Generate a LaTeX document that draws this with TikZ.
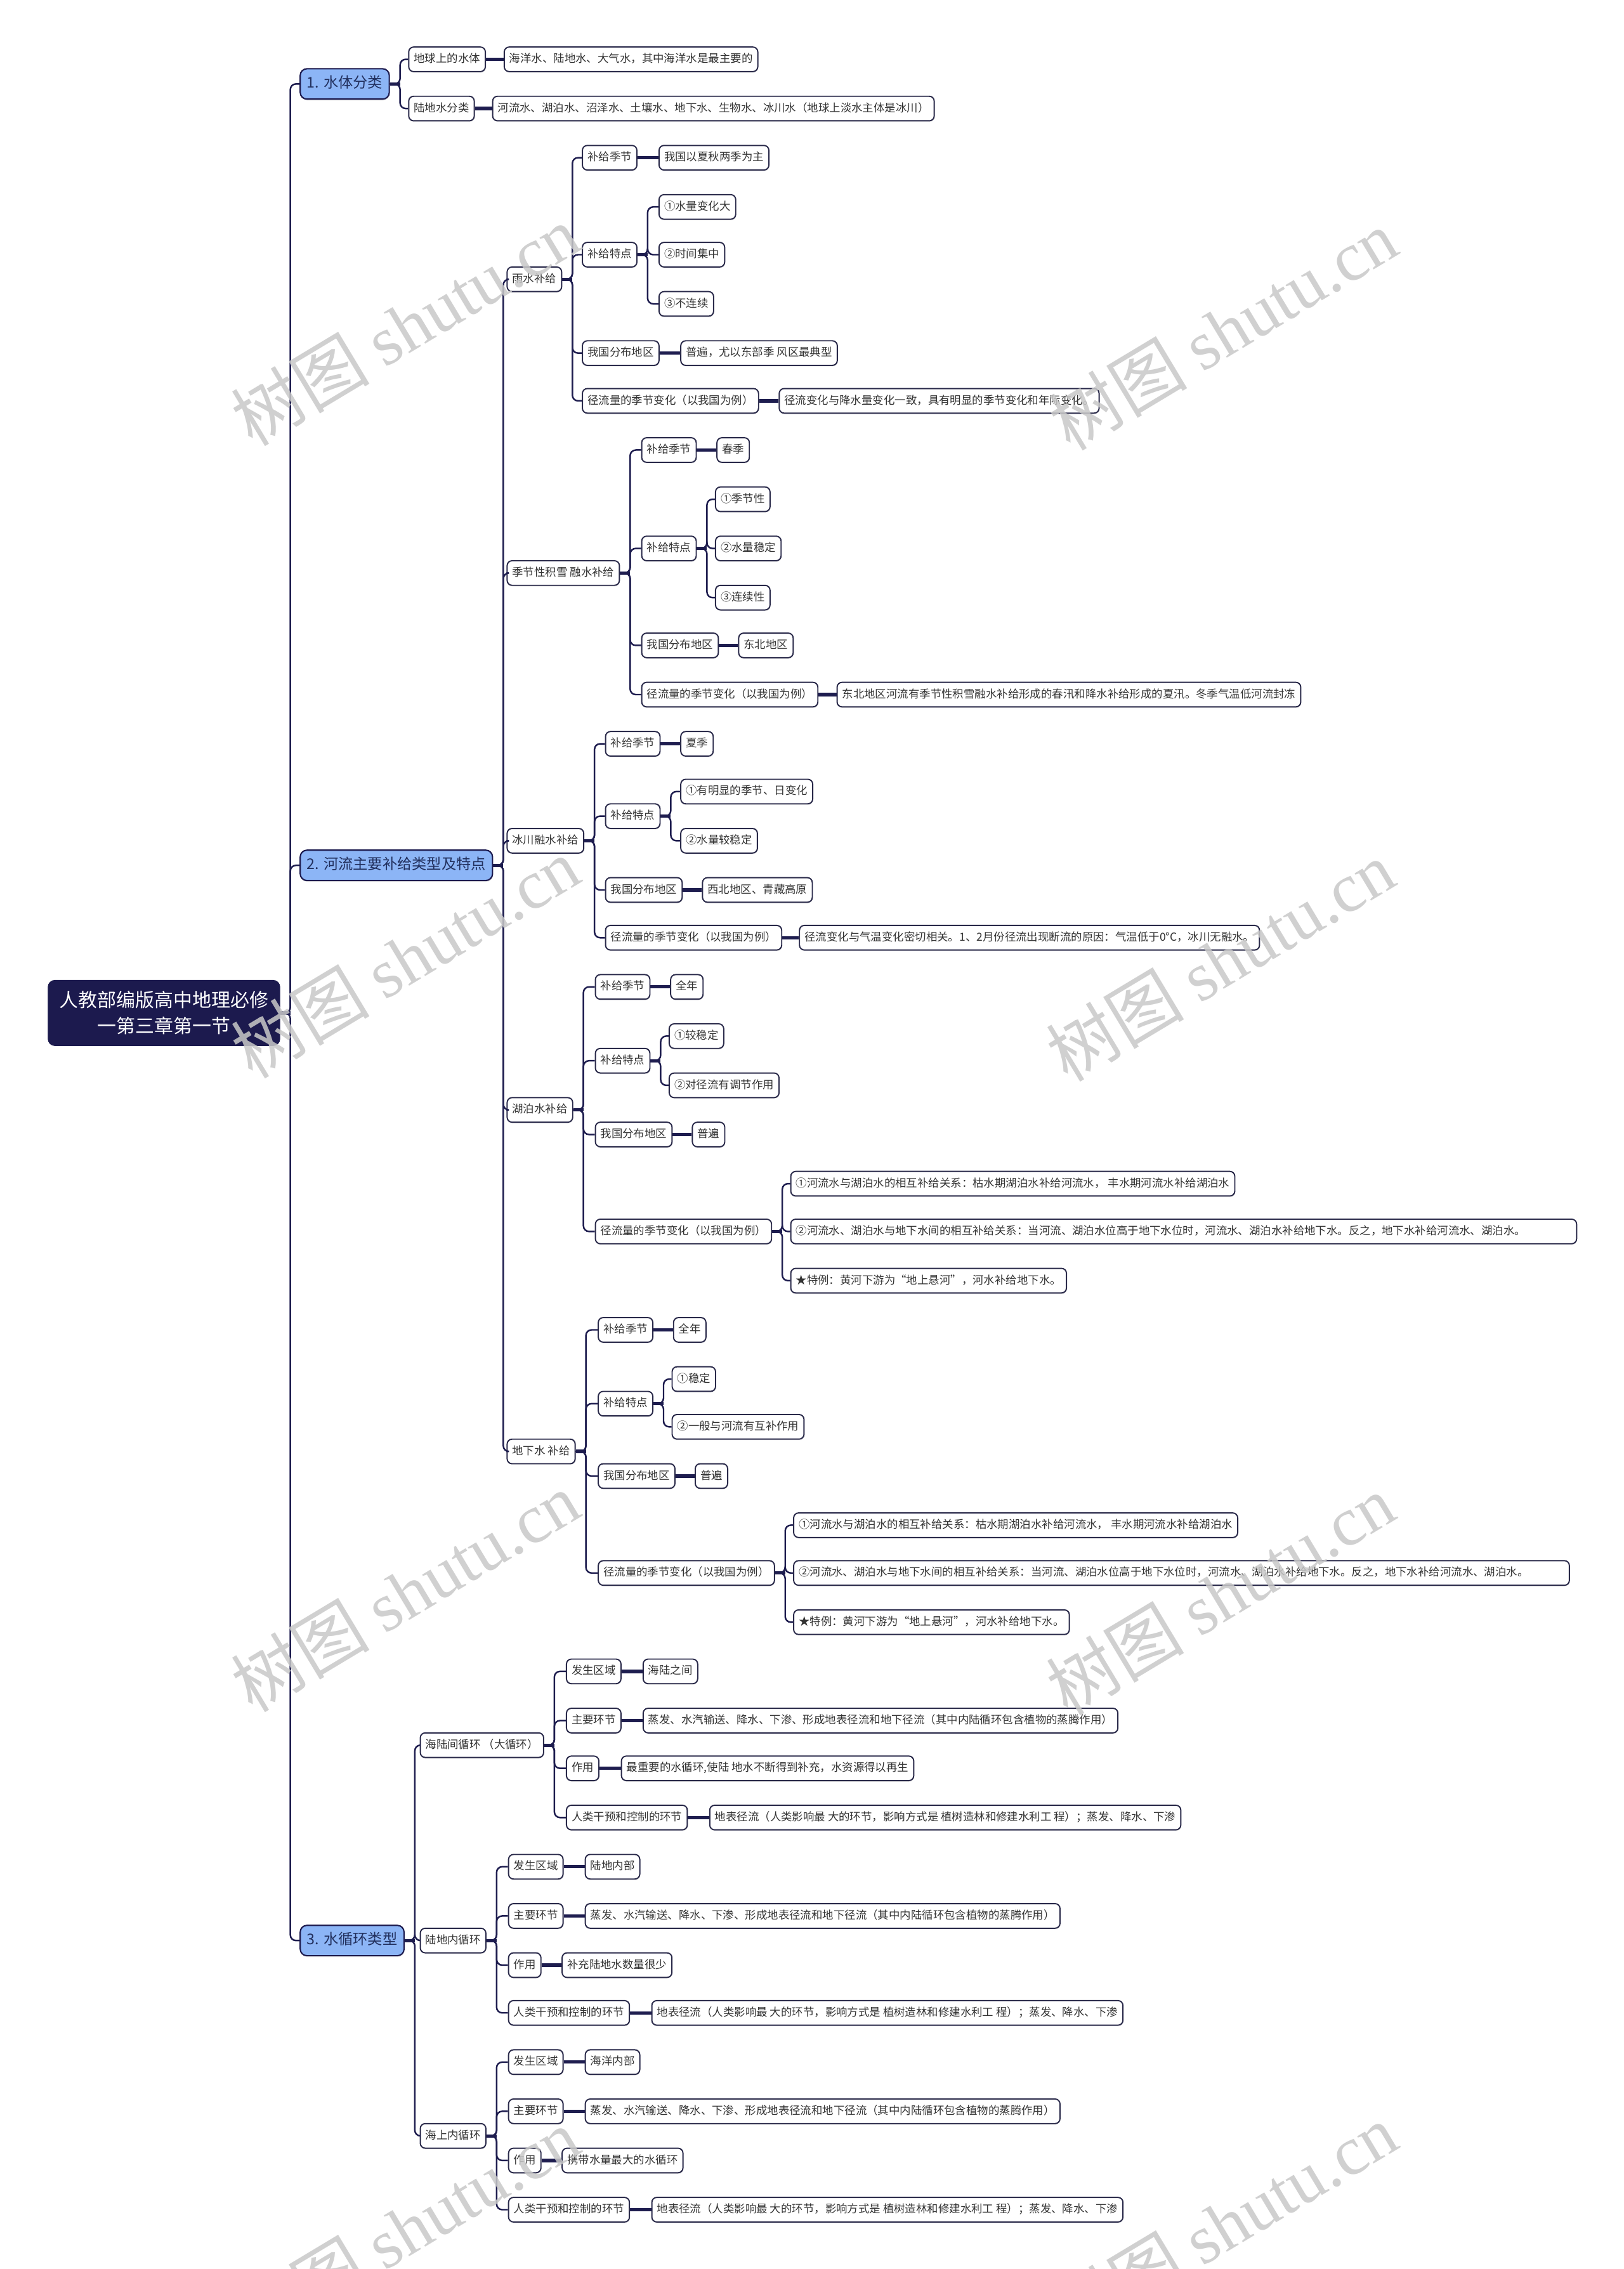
\documentclass[tikz,border=0pt]{standalone}
\usepackage{fontspec}
\setmainfont{Noto Sans CJK SC}
\newfontfamily\cjk{Noto Sans CJK SC}
\newfontfamily\wmlat{Liberation Serif}
\usetikzlibrary{shadows}
\definecolor{navy}{HTML}{1C1A4E}
\definecolor{ln}{HTML}{1E1D4F}
\definecolor{lblue}{HTML}{8CB5F6}
\definecolor{bd}{HTML}{2A2A4A}
\definecolor{tx}{HTML}{333333}
\definecolor{lonet}{HTML}{22305E}
\definecolor{wmc}{HTML}{C8C8C8}
\newcommand{\linkc}[2]{\draw[cn] (#1.east) -- ++(7,0) |- (#2.west);}
\newcommand{\stubc}[1]{\draw[stub] (#1.east) -- ++(7,0);}
\newcommand{\directc}[2]{\draw[stub] (#1.east) -- (#2.west);}
\tikzset{
  bx/.style={draw=bd, line width=0.55pt, rounded corners=2.2pt, fill=white, text=tx,
    font=\cjk\fontsize{4.95}{6}\selectfont, inner xsep=2.3pt, inner ysep=0pt,
    minimum height=11pt, text height=3.8pt, text depth=0.9pt, anchor=west,
    drop shadow={opacity=0.18, shadow xshift=0.2pt, shadow yshift=-0.5pt}},
  lone/.style={draw=navy, line width=0.6pt, rounded corners=3pt, fill=lblue, text=lonet,
    font=\cjk\fontsize{6.6}{8}\selectfont, inner xsep=3pt, inner ysep=0pt,
    minimum height=13.6pt, text height=5pt, text depth=1.3pt, anchor=west,
    drop shadow={opacity=0.18, shadow xshift=0.2pt, shadow yshift=-0.6pt}},
  rt/.style={fill=navy, draw=navy, rounded corners=3pt, text=white, align=center,
    font=\cjk\fontsize{8.5}{11.7}\selectfont, minimum width={160*0.6478pt},
    minimum height={45*0.6478pt}, anchor=west, inner sep=0pt},
  cn/.style={draw=ln, line width=0.7pt, rounded corners=2.5pt},
  stub/.style={draw=ln, line width=1.5pt},
  wm/.style={text=wmc, text opacity=0.85, rotate=31, font=\cjk\fontsize{31}{32}\selectfont, inner sep=0pt},
  wide/.style={align=left}
}
\begin{document}
\begin{tikzpicture}[x=0.6478pt,y=-0.6478pt]
\useasboundingbox (0,0) rectangle (1122,1568);
\fill[white] (0,0) rectangle (1122,1568);

% root and level 1
\node[rt] (root) at (33,700) {人教部编版高中地理必修\\一第三章第一节};
\node[lone] (A1) at (207,58) {1. 水体分类};
\node[lone] (A2) at (207,598) {2. 河流主要补给类型及特点};
\node[lone] (A3) at (207,1341) {3. 水循环类型};

% group 1
\node[bx] (A1a) at (282,41) {地球上的水体};
\node[bx] (A1a1) at (348,41) {海洋水、陆地水、大气水，其中海洋水是最主要的};
\node[bx] (A1b) at (282,75) {陆地水分类};
\node[bx] (A1b1) at (340,75) {河流水、湖泊水、沼泽水、土壤水、地下水、生物水、冰川水（地球上淡水主体是冰川）};

% rain
\node[bx] (R) at (350,193) {雨水补给};
\node[bx] (R1) at (402,109) {补给季节};
\node[bx] (R1a) at (455,109) {我国以夏秋两季为主};
\node[bx] (R2) at (402,176) {补给特点};
\node[bx] (R2a) at (455,143) {①水量变化大};
\node[bx] (R2b) at (455,176) {②时间集中};
\node[bx] (R2c) at (455,210) {③不连续};
\node[bx] (R3) at (402,244) {我国分布地区};
\node[bx] (R3a) at (470,244) {普遍，尤以东部季 风区最典型};
\node[bx] (R4) at (402,277) {径流量的季节变化（以我国为例）};
\node[bx] (R4a) at (538,277) {径流变化与降水量变化一致，具有明显的季节变化和年际变化。};

% snow
\node[bx] (S) at (350,396) {季节性积雪 融水补给};
\node[bx] (S1) at (443,311) {补给季节};
\node[bx] (S1a) at (495,311) {春季};
\node[bx] (S2) at (443,379) {补给特点};
\node[bx] (S2a) at (494,345) {①季节性};
\node[bx] (S2b) at (494,379) {②水量稳定};
\node[bx] (S2c) at (494,413) {③连续性};
\node[bx] (S3) at (443,446) {我国分布地区};
\node[bx] (S3a) at (510,446) {东北地区};
\node[bx] (S4) at (443,480) {径流量的季节变化（以我国为例）};
\node[bx] (S4a) at (578,480) {东北地区河流有季节性积雪融水补给形成的春汛和降水补给形成的夏汛。冬季气温低河流封冻};

% glacier
\node[bx] (G) at (350,581) {冰川融水补给};
\node[bx] (G1) at (418,514) {补给季节};
\node[bx] (G1a) at (470,514) {夏季};
\node[bx] (G2) at (418,564) {补给特点};
\node[bx] (G2a) at (470,547) {①有明显的季节、日变化};
\node[bx] (G2b) at (470,581) {②水量较稳定};
\node[bx] (G3) at (418,615) {我国分布地区};
\node[bx] (G3a) at (485,615) {西北地区、青藏高原};
\node[bx] (G4) at (418,648) {径流量的季节变化（以我国为例）};
\node[bx] (G4a) at (552,648) {径流变化与气温变化密切相关。1、2月份径流出现断流的原因：气温低于0°C，冰川无融水。};

% lake
\node[bx] (L) at (350,767) {湖泊水补给};
\node[bx] (L1) at (411,682) {补给季节};
\node[bx] (L1a) at (463,682) {全年};
\node[bx] (L2) at (411,733) {补给特点};
\node[bx] (L2a) at (462,716) {①较稳定};
\node[bx] (L2b) at (462,750) {②对径流有调节作用};
\node[bx] (L3) at (411,784) {我国分布地区};
\node[bx] (L3a) at (478,784) {普遍};
\node[bx] (L4) at (411,851) {径流量的季节变化（以我国为例）};
\node[bx] (L4a) at (546,818) {①河流水与湖泊水的相互补给关系：枯水期湖泊水补给河流水， 丰水期河流水补给湖泊水};
\node[bx, wide, text width={(543-7.1)*0.6478pt}] (L4b) at (546,851) {②河流水、湖泊水与地下水间的相互补给关系：当河流、湖泊水位高于地下水位时，河流水、湖泊水补给地下水。反之，地下水补给河流水、湖泊水。};
\node[bx] (L4c) at (546,885) {★特例：黄河下游为“地上悬河”，河水补给地下水。};

% groundwater
\node[bx] (U) at (350,1003) {地下水 补给};
\node[bx] (U1) at (413,919) {补给季节};
\node[bx] (U1a) at (465,919) {全年};
\node[bx] (U2) at (413,970) {补给特点};
\node[bx] (U2a) at (464,953) {①稳定};
\node[bx] (U2b) at (464,986) {②一般与河流有互补作用};
\node[bx] (U3) at (413,1020) {我国分布地区};
\node[bx] (U3a) at (480,1020) {普遍};
\node[bx] (U4) at (413,1087) {径流量的季节变化（以我国为例）};
\node[bx] (U4a) at (548,1054) {①河流水与湖泊水的相互补给关系：枯水期湖泊水补给河流水， 丰水期河流水补给湖泊水};
\node[bx, wide, text width={(536-7.1)*0.6478pt}] (U4b) at (548,1087) {②河流水、湖泊水与地下水间的相互补给关系：当河流、湖泊水位高于地下水位时，河流水、湖泊水补给地下水。反之，地下水补给河流水、湖泊水。};
\node[bx] (U4c) at (548,1121) {★特例：黄河下游为“地上悬河”，河水补给地下水。};

% cycles
\node[bx] (C1) at (290,1206) {海陆间循环 （大循环）};
\node[bx] (C1a) at (391,1155) {发生区域};
\node[bx] (C1a1) at (444,1155) {海陆之间};
\node[bx] (C1b) at (391,1189) {主要环节};
\node[bx] (C1b1) at (444,1189) {蒸发、水汽输送、降水、下渗、形成地表径流和地下径流（其中内陆循环包含植物的蒸腾作用）};
\node[bx] (C1c) at (391,1222) {作用};
\node[bx] (C1c1) at (429,1222) {最重要的水循环,使陆 地水不断得到补充，水资源得以再生};
\node[bx] (C1d) at (391,1256) {人类干预和控制的环节};
\node[bx] (C1d1) at (490,1256) {地表径流（人类影响最 大的环节，影响方式是 植树造林和修建水利工 程）；蒸发、降水、下渗};

\node[bx] (C2) at (290,1341) {陆地内循环};
\node[bx] (C2a) at (351,1290) {发生区域};
\node[bx] (C2a1) at (404,1290) {陆地内部};
\node[bx] (C2b) at (351,1324) {主要环节};
\node[bx] (C2b1) at (404,1324) {蒸发、水汽输送、降水、下渗、形成地表径流和地下径流（其中内陆循环包含植物的蒸腾作用）};
\node[bx] (C2c) at (351,1358) {作用};
\node[bx] (C2c1) at (388,1358) {补充陆地水数量很少};
\node[bx] (C2d) at (351,1391) {人类干预和控制的环节};
\node[bx] (C2d1) at (450,1391) {地表径流（人类影响最 大的环节，影响方式是 植树造林和修建水利工 程）；蒸发、降水、下渗};

\node[bx] (C3) at (290,1476) {海上内循环};
\node[bx] (C3a) at (351,1425) {发生区域};
\node[bx] (C3a1) at (404,1425) {海洋内部};
\node[bx] (C3b) at (351,1459) {主要环节};
\node[bx] (C3b1) at (404,1459) {蒸发、水汽输送、降水、下渗、形成地表径流和地下径流（其中内陆循环包含植物的蒸腾作用）};
\node[bx] (C3c) at (351,1493) {作用};
\node[bx] (C3c1) at (388,1493) {携带水量最大的水循环};
\node[bx] (C3d) at (351,1527) {人类干预和控制的环节};
\node[bx] (C3d1) at (450,1527) {地表径流（人类影响最 大的环节，影响方式是 植树造林和修建水利工 程）；蒸发、降水、下渗};

% connectors
\stubc{root}
\linkc{root}{A1}\linkc{root}{A2}\linkc{root}{A3}
\stubc{A1}\linkc{A1}{A1a}\linkc{A1}{A1b}
\directc{A1a}{A1a1}\directc{A1b}{A1b1}
\stubc{A2}
\foreach \c in {R,S,G,L,U}{\linkc{A2}{\c}}
\stubc{A3}
\foreach \c in {C1,C2,C3}{\linkc{A3}{\c}}
% rain
\stubc{R}\foreach \c in {R1,R2,R3,R4}{\linkc{R}{\c}}
\directc{R1}{R1a}\directc{R3}{R3a}\directc{R4}{R4a}
\stubc{R2}\foreach \c in {R2a,R2b,R2c}{\linkc{R2}{\c}}
% snow
\stubc{S}\foreach \c in {S1,S2,S3,S4}{\linkc{S}{\c}}
\directc{S1}{S1a}\directc{S3}{S3a}\directc{S4}{S4a}
\stubc{S2}\foreach \c in {S2a,S2b,S2c}{\linkc{S2}{\c}}
% glacier
\stubc{G}\foreach \c in {G1,G2,G3,G4}{\linkc{G}{\c}}
\directc{G1}{G1a}\directc{G3}{G3a}\directc{G4}{G4a}
\stubc{G2}\foreach \c in {G2a,G2b}{\linkc{G2}{\c}}
% lake
\stubc{L}\foreach \c in {L1,L2,L3,L4}{\linkc{L}{\c}}
\directc{L1}{L1a}\directc{L3}{L3a}
\stubc{L2}\foreach \c in {L2a,L2b}{\linkc{L2}{\c}}
\stubc{L4}\foreach \c in {L4a,L4b,L4c}{\linkc{L4}{\c}}
% groundwater
\stubc{U}\foreach \c in {U1,U2,U3,U4}{\linkc{U}{\c}}
\directc{U1}{U1a}\directc{U3}{U3a}
\stubc{U2}\foreach \c in {U2a,U2b}{\linkc{U2}{\c}}
\stubc{U4}\foreach \c in {U4a,U4b,U4c}{\linkc{U4}{\c}}
% cycles
\foreach \p in {C1,C2,C3}{
  \stubc{\p}
  \foreach \s in {a,b,c,d}{\linkc{\p}{\p\s}\directc{\p\s}{\p\s1}}
}

% watermarks
\foreach \wx/\wy in {280/225, 845/228, 280/662, 843/664, 280/1100, 843/1102, 280/1540, 845/1537}{
  \node[wm] at (\wx,\wy) {树图 {\wmlat shutu.cn}};
}
\end{tikzpicture}
\end{document}
